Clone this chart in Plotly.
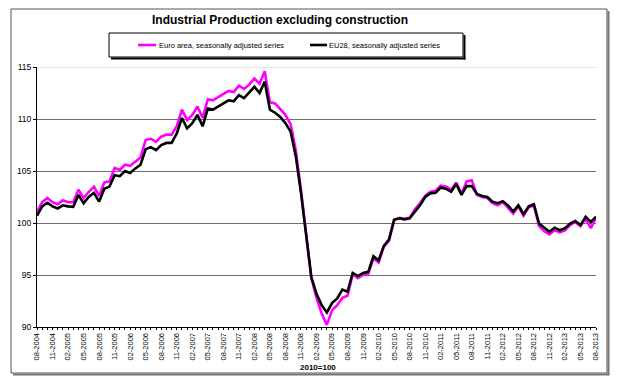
import plotly.graph_objects as go

# ---- data ----
start_month = 8
start_year = 2004
n_months = 109

euro_area = [101.1, 102.0, 102.4, 102.0, 101.8, 102.2, 102.0, 102.0, 103.2, 102.4,
             103.0, 103.5, 102.6, 103.9, 104.0, 105.3, 105.1, 105.6, 105.5, 105.9,
             106.3, 108.0, 108.1, 107.8, 108.3, 108.5, 108.5, 109.3, 110.9, 109.9,
             110.4, 111.2, 110.1, 111.9, 111.8, 112.1, 112.4, 112.7, 112.6, 113.2,
             112.9, 113.3, 113.9, 113.4, 114.6, 111.6, 111.5, 111.0, 110.4, 109.5,
             107.0, 103.2, 98.8, 94.7, 92.8, 91.3, 90.2, 91.6, 92.1, 92.8,
             93.0, 95.1, 94.7, 95.0, 95.1, 96.6, 96.2, 97.7, 98.3, 100.3,
             100.5, 100.4, 100.5, 101.3, 101.9, 102.6, 103.0, 103.1, 103.6, 103.5,
             103.2, 103.9, 102.8, 104.0, 104.1, 102.7, 102.5, 102.4, 101.9, 101.7,
             102.0, 101.5, 100.9, 101.6, 100.7, 101.5, 101.7, 99.7, 99.2, 98.9,
             99.3, 99.1, 99.3, 99.8, 100.1, 99.7, 100.4, 99.5, 100.5]

eu28 = [100.7, 101.6, 101.95, 101.6, 101.4, 101.7, 101.6, 101.55, 102.7, 101.9,
        102.5, 102.9, 102.05, 103.3, 103.5, 104.6, 104.5, 105.0, 104.8, 105.25,
        105.6, 107.1, 107.3, 107.0, 107.5, 107.7, 107.7, 108.6, 110.1, 109.1,
        109.6, 110.4, 109.3, 111.0, 110.9, 111.2, 111.5, 111.8, 111.7, 112.3,
        112.0, 112.5, 113.1, 112.5, 113.6, 110.9, 110.6, 110.2, 109.6, 108.8,
        106.4, 102.9, 98.7, 94.8, 93.2, 92.1, 91.4, 92.3, 92.75, 93.6,
        93.4, 95.2, 94.9, 95.2, 95.3, 96.8, 96.4, 97.8, 98.4, 100.3,
        100.45, 100.35, 100.45, 101.1, 101.7, 102.5, 102.85, 102.9, 103.4, 103.3,
        103.0, 103.75, 102.7, 103.55, 103.55, 102.8, 102.6, 102.5, 102.05, 101.9,
        102.1, 101.7, 101.1, 101.7, 100.85, 101.6, 101.8, 99.95, 99.55, 99.15,
        99.55, 99.3, 99.5, 99.95, 100.2, 99.8, 100.6, 100.1, 100.6]

y_ticks = [90, 95, 100, 105, 110, 115]
title_text = "Industrial Production excluding construction"
name_ea = "Euro area, seasonally adjusted series"
name_eu = "EU28, seasonally adjusted series"
base_text = "2010=100"
color_ea = "#FF00FF"
color_eu = "#000000"

# month labels
months = []
for k in range(n_months):
    m = (start_month - 1 + k) % 12 + 1
    y = start_year + (start_month - 1 + k) // 12
    months.append(f"{m:02d}-{y}")
x_idx = list(range(n_months))
tick_text = [months[k] if k % 3 == 0 else "" for k in x_idx]

FONT = "Arial, 'Liberation Sans', sans-serif"

fig = go.Figure()
fig.add_trace(go.Scatter(x=x_idx, y=euro_area, mode="lines", name=name_ea,
                         line=dict(color=color_ea, width=2.6)))
fig.add_trace(go.Scatter(x=x_idx, y=eu28, mode="lines", name=name_eu,
                         line=dict(color=color_eu, width=2.6)))

# plot area: x 37..596 px, y 67..327 px
L, R, T, B = 37, 596, 67, 327
W, H = R - L, B - T
def px(x):
    return (x - L) / W
def py(y):
    return (B - y) / H

# legend box geometry (pixels)
LB_L, LB_R, LB_T, LB_B = 109, 463, 33, 57
leg_y = 45

shapes = [
    # outer frame
    dict(type="rect", xref="paper", yref="paper", x0=px(11), x1=px(607), y0=py(373), y1=py(9),
         line=dict(color="#555555", width=1), layer="below"),
    # frame shadow
    dict(type="line", xref="paper", yref="paper", x0=px(608.5), x1=px(608.5), y0=py(375), y1=py(11),
         line=dict(color="#777777", width=2)),
    dict(type="line", xref="paper", yref="paper", x0=px(13), x1=px(609.5), y0=py(374.5), y1=py(374.5),
         line=dict(color="#777777", width=2)),
    # light top line at 115
    dict(type="line", xref="paper", yref="y", x0=0, x1=1, y0=115, y1=115,
         line=dict(color="#dddddd", width=1.5), layer="below"),
    # legend box
    dict(type="rect", xref="paper", yref="paper", x0=px(LB_L), x1=px(LB_R), y0=py(LB_B), y1=py(LB_T),
         line=dict(color="black", width=1), fillcolor="white"),
    # legend shadow
    dict(type="line", xref="paper", yref="paper", x0=px(LB_R + 1.5), x1=px(LB_R + 1.5), y0=py(LB_B + 2.5), y1=py(LB_T + 2),
         line=dict(color="black", width=2)),
    dict(type="line", xref="paper", yref="paper", x0=px(LB_L + 2), x1=px(LB_R + 2.5), y0=py(LB_B + 1.5), y1=py(LB_B + 1.5),
         line=dict(color="black", width=2)),
    # legend samples
    dict(type="line", xref="paper", yref="paper", x0=px(138), x1=px(156), y0=py(leg_y), y1=py(leg_y),
         line=dict(color=color_ea, width=2.6)),
    dict(type="line", xref="paper", yref="paper", x0=px(310), x1=px(327), y0=py(leg_y), y1=py(leg_y),
         line=dict(color=color_eu, width=2.6)),
]

annotations = [
    dict(text=f"<b>{base_text}</b>", xref="paper", yref="paper",
         x=px(318), y=py(367), xanchor="center", yanchor="middle",
         showarrow=False, font=dict(size=8, family=FONT, color="black")),
    dict(text=name_ea, xref="paper", yref="paper", x=px(157), y=py(leg_y),
         xanchor="left", yanchor="middle", showarrow=False,
         font=dict(size=7.5, family=FONT, color="black")),
    dict(text=name_eu, xref="paper", yref="paper", x=px(327), y=py(leg_y),
         xanchor="left", yanchor="middle", showarrow=False,
         font=dict(size=7.5, family=FONT, color="black")),
]

fig.update_layout(
    width=620, height=387,
    margin=dict(l=L, r=620 - R, t=T, b=387 - B),
    paper_bgcolor="white", plot_bgcolor="white",
    font=dict(family=FONT, color="black", size=8),
    title=dict(text=f"<b>{title_text}</b>", x=280 / 620, xref="container", xanchor="center",
               y=1 - 20 / 387, yref="container", yanchor="middle",
               font=dict(size=12, family=FONT, color="black")),
    showlegend=False,
    xaxis=dict(range=[0, n_months - 1], tickmode="array", tickvals=x_idx, ticktext=tick_text,
               tickangle=-90, ticks="outside", ticklen=2, tickcolor="black",
               showline=True, linecolor="black", linewidth=1, showgrid=False, zeroline=False,
               tickfont=dict(size=7.5, family=FONT)),
    yaxis=dict(range=[90, 115], tickmode="array", tickvals=y_ticks,
               ticks="outside", ticklen=3, tickcolor="black",
               showline=True, linecolor="black", linewidth=1,
               showgrid=True, gridcolor="#6e6e6e", gridwidth=1.3, zeroline=False,
               tickfont=dict(size=8.5, family=FONT)),
    shapes=shapes,
    annotations=annotations,
)

fig.write_html("out.html", post_script="document.body.style.margin='0px';",
               config={"displayModeBar": False})
